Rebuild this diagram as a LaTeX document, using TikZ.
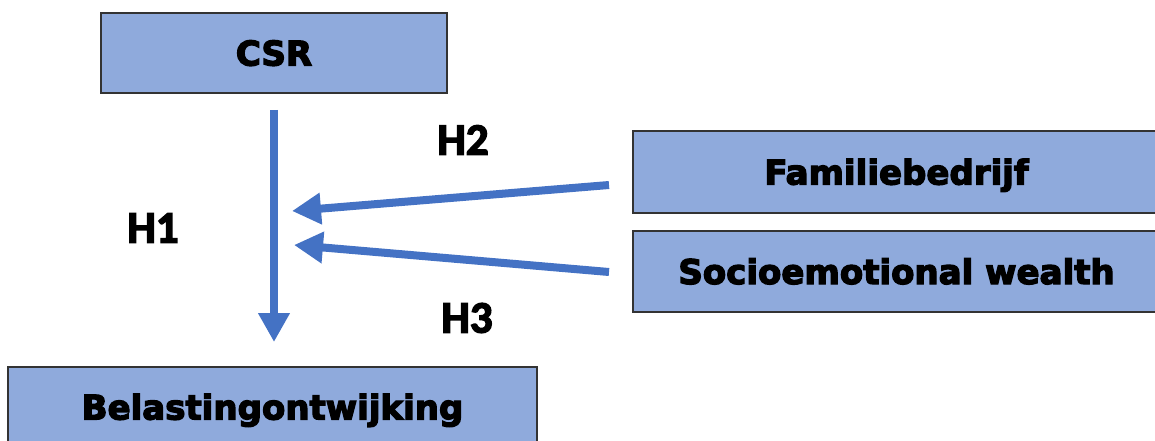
\documentclass[tikz,border=0pt]{standalone}
\usepackage{fontspec}
\setmainfont{DejaVu Sans}[BoldFont={DejaVu Sans Bold}]
\newfontfamily\hypfont{Carlito Bold}
\usetikzlibrary{arrows.meta}
\definecolor{boxfill}{HTML}{8FAADC}
\definecolor{arrowblue}{HTML}{4472C4}
\definecolor{boxline}{HTML}{333333}
\newcommand{\heavy}[2][1.3]{\special{pdf:literal 2 Tr 0 0 0 RG #1 w}#2\special{pdf:literal 0 Tr}}
\begin{document}
\begin{tikzpicture}[x=1pt,y=-1pt,
  box/.style={draw=boxline, line width=1.5pt, fill=boxfill, inner sep=0pt,
    text height=25pt, text depth=0pt,
    font=\fontsize{34}{40}\selectfont\bfseries},
  hyp/.style={inner sep=0pt, font=\hypfont\fontsize{45}{50}\selectfont},
  conn/.style={draw=arrowblue, line width=8pt, -{Triangle[length=29pt,width=30pt]}}]
\useasboundingbox (0,0) rectangle (1155,441);
\clip (0,0) rectangle (1155,441);
% labels
\node[hyp] (h1) at (153,228) {\heavy[1.4]{H1}};
\node[hyp] (h2) at (463,140) {\heavy[1.4]{H2}};
\node[hyp] (h3) at (467,318) {\heavy[1.4]{H3}};
% boxes
\node[box, minimum width=346pt, minimum height=80pt] (csr) at (274,53) {\heavy{CSR}};
\node[box, minimum width=527pt, minimum height=82pt] (fam) at (896.5,172) {\heavy{Familiebedrijf}};
\node[box, minimum width=527pt, minimum height=81pt] (sew) at (896.5,271.5) {\heavy{Socioemotional wealth}};
\node[box, minimum width=529pt, minimum height=80pt] (bel) at (272.5,407) {\heavy{Belastingontwijking}};
% connector end points
\coordinate (v1) at (274,110);
\coordinate (v2) at (274,342);
\coordinate (a2s) at (609,185);
\coordinate (a2e) at (292,211);
\coordinate (a3s) at (609,272);
\coordinate (a3e) at (294,245);
\draw[conn] (v1) -- (v2);
\draw[conn] (a2s) -- (a2e);
\draw[conn] (a3s) -- (a3e);
\end{tikzpicture}
\end{document}
